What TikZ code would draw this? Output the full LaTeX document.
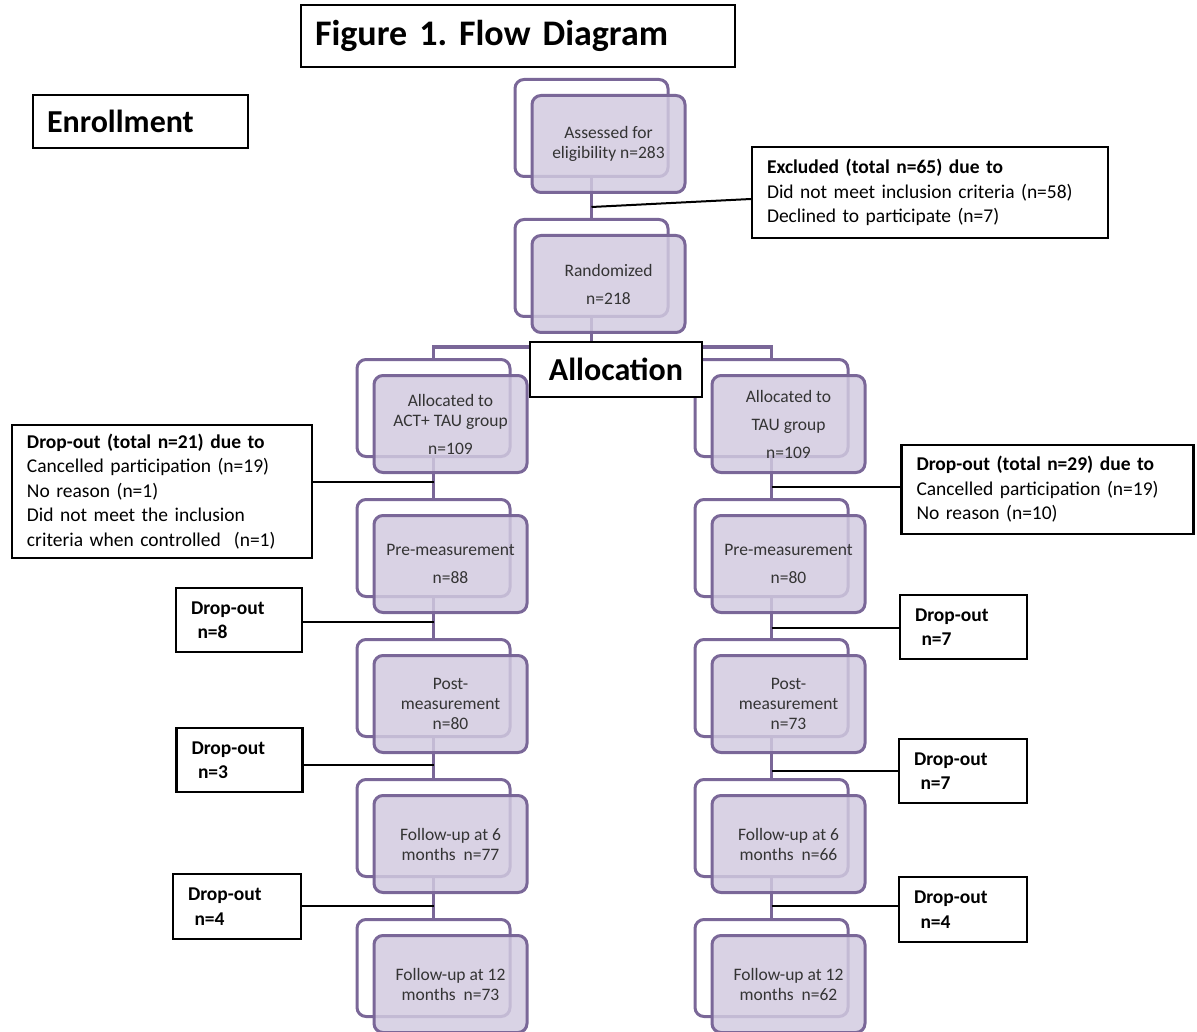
\documentclass[tikz,border=0pt]{standalone}
\usepackage{fontspec}
\setmainfont{Carlito}
\usepackage{tikz}
\usetikzlibrary{positioning}
\definecolor{stagepurple}{RGB}{122,103,152}
\definecolor{stagefill}{RGB}{210,202,224}
\definecolor{stagetext}{RGB}{52,52,52}
\newcommand{\stagefont}{\fontsize{17.5}{20}\selectfont}
\newcommand{\dropfont}{\fontsize{19.5}{24.5}\selectfont}
\newcommand{\headfont}{\fontsize{32}{36}\selectfont\bfseries}
\newcommand{\titlefont}{\fontsize{36}{40}\selectfont\bfseries}
\frenchspacing

\begin{document}
\begin{tikzpicture}[
    x=1pt, y=-1pt,
    node distance=40pt,
    stage back/.style={draw=stagepurple, line width=3pt, rounded corners=9pt,
      fill=white, minimum width=153pt, minimum height=97pt},
    stage node/.style={stage back, fill=stagefill, fill opacity=0.84,
      text opacity=1, text=stagetext, align=center, font=\stagefont},
    drop node/.style={draw=black, line width=2.2pt, fill=white, align=left,
      font=\dropfont, inner xsep=15pt, inner ysep=0pt},
    head node/.style={draw=black, line width=2.2pt, fill=white, font=\headfont,
      inner xsep=14pt, inner ysep=0pt},
    stage line/.style={draw=stagepurple, line width=3.5pt},
    drop line/.style={draw=black, line width=2pt}
    ]

    \useasboundingbox (0,0) rectangle (1197,1032);

    % headings
    \node[head node, font=\titlefont, text width=406pt, align=left, minimum height=62pt] (title) at (518,36) {Figure 1. Flow Diagram};
    \node[head node, text width=187pt, align=left, minimum height=53pt] (enrol) at (140.5,121.5) {Enrollment};

    % back boxes
    \node[stage back] (c1) at (591.5,128) {};
    \node[stage back] (c2) [below=of c1] {};
    \node[stage back] (l1) at (433.5,408) {};
    \node[stage back] (l2) [below=of l1] {};
    \node[stage back] (l3) [below=of l2] {};
    \node[stage back] (l4) [below=of l3] {};
    \node[stage back] (l5) [below=of l4] {};
    \node[stage back] (r1) at (771.5,408) {};
    \node[stage back] (r2) [below=of r1] {};
    \node[stage back] (r3) [below=of r2] {};
    \node[stage back] (r4) [below=of r3] {};
    \node[stage back] (r5) [below=of r4] {};

    \coordinate (split) at (591.5,347);
    \path[stage line]
      (c1) edge (c2)
      (c2) edge (split)
      (l1) edge (l2)
      (l2) edge (l3)
      (l3) edge (l4)
      (l4) edge (l5)
      (r1) edge (r2)
      (r2) edge (r3)
      (r3) edge (r4)
      (r4) edge (r5);
    \draw[stage line] (l1) |- (split) -| (r1);
    \node[head node, minimum width=172pt, minimum height=55pt] (alloc) at (616,369.5) {Allocation};

    % front boxes
    \node[stage node] (c1f) [below right=16pt and 17pt of c1.north west] {Assessed for\\eligibility n=283};
    \node[stage node] (c2f) [below right=16pt and 17pt of c2.north west] {Randomized\\[8pt]n=218};
    \node[stage node] (l1f) [below right=16pt and 17pt of l1.north west] {Allocated to\\ACT+ TAU group\\[8pt]n=109};
    \node[stage node] (l2f) [below right=16pt and 17pt of l2.north west] {Pre-measurement\\[8pt]n=88};
    \node[stage node] (l3f) [below right=16pt and 17pt of l3.north west] {Post-\\measurement\\n=80};
    \node[stage node] (l4f) [below right=16pt and 17pt of l4.north west] {Follow-up at 6\\months~~n=77};
    \node[stage node] (l5f) [below right=16pt and 17pt of l5.north west] {Follow-up at 12\\months~~n=73};
    \node[stage node] (r1f) [below right=16pt and 17pt of r1.north west] {Allocated to\\[8pt]TAU group\\[8pt]n=109};
    \node[stage node] (r2f) [below right=16pt and 17pt of r2.north west] {Pre-measurement\\[8pt]n=80};
    \node[stage node] (r3f) [below right=16pt and 17pt of r3.north west] {Post-\\measurement\\n=73};
    \node[stage node] (r4f) [below right=16pt and 17pt of r4.north west] {Follow-up at 6\\months~~n=66};
    \node[stage node] (r5f) [below right=16pt and 17pt of r5.north west] {Follow-up at 12\\months~~n=62};

    % excluded and drop-out boxes
    \node[drop node, text width=326pt, minimum height=91pt] (ex) at (930,192.5) {\textbf{Excluded (total n=65) due to}\\Did not meet inclusion criteria (n=58)\\Declined to participate (n=7)};
    \node[drop node, text width=270pt, minimum height=133pt] (d1) at (162,491.5) {\textbf{Drop-out (total n=21) due to}\\Cancelled participation (n=19)\\No reason (n=1)\\Did not meet the inclusion\\criteria when controlled~~(n=1)};
    \node[drop node, text width=96pt, minimum height=64pt] (d2) at (239,620) {\textbf{Drop-out}\\\textbf{~n=8}};
    \node[drop node, text width=96pt, minimum height=64pt] (d3) at (239.5,760) {\textbf{Drop-out}\\\textbf{~n=3}};
    \node[drop node, text width=98pt, minimum height=65pt] (d4) at (237,906.5) {\textbf{Drop-out}\\\textbf{~n=4}};
    \node[drop node, text width=262pt, minimum height=89pt] (d5) at (1047.5,489.5) {\textbf{Drop-out (total n=29) due to}\\Cancelled participation (n=19)\\No reason (n=10)};
    \node[drop node, text width=97pt, minimum height=64pt] (d6) at (963.5,627) {\textbf{Drop-out}\\\textbf{~n=7}};
    \node[drop node, text width=98pt, minimum height=64pt] (d7) at (963,771) {\textbf{Drop-out}\\\textbf{~n=7}};
    \node[drop node, text width=98pt, minimum height=65pt] (d8) at (963,909.5) {\textbf{Drop-out}\\\textbf{~n=4}};

    \coordinate (e1) at (591.5,207);
    \coordinate (j1) at (433.5,482);
    \coordinate (j2) at (433.5,622);
    \coordinate (j3) at (433.5,765);
    \coordinate (j4) at (433.5,906);
    \coordinate (k1) at (771.5,487);
    \coordinate (k2) at (771.5,628);
    \coordinate (k3) at (771.5,771);
    \coordinate (k4) at (771.5,906);
    \path[drop line]
      (e1) edge ([yshift=-6.5pt]ex.west)
      (d1.east |- j1) edge (j1)
      (d2.east |- j2) edge (j2)
      (d3.east |- j3) edge (j3)
      (d4.east |- j4) edge (j4)
      (k1) edge (d5.west |- k1)
      (k2) edge (d6.west |- k2)
      (k3) edge (d7.west |- k3)
      (k4) edge (d8.west |- k4);
  \end{tikzpicture}
\end{document}
